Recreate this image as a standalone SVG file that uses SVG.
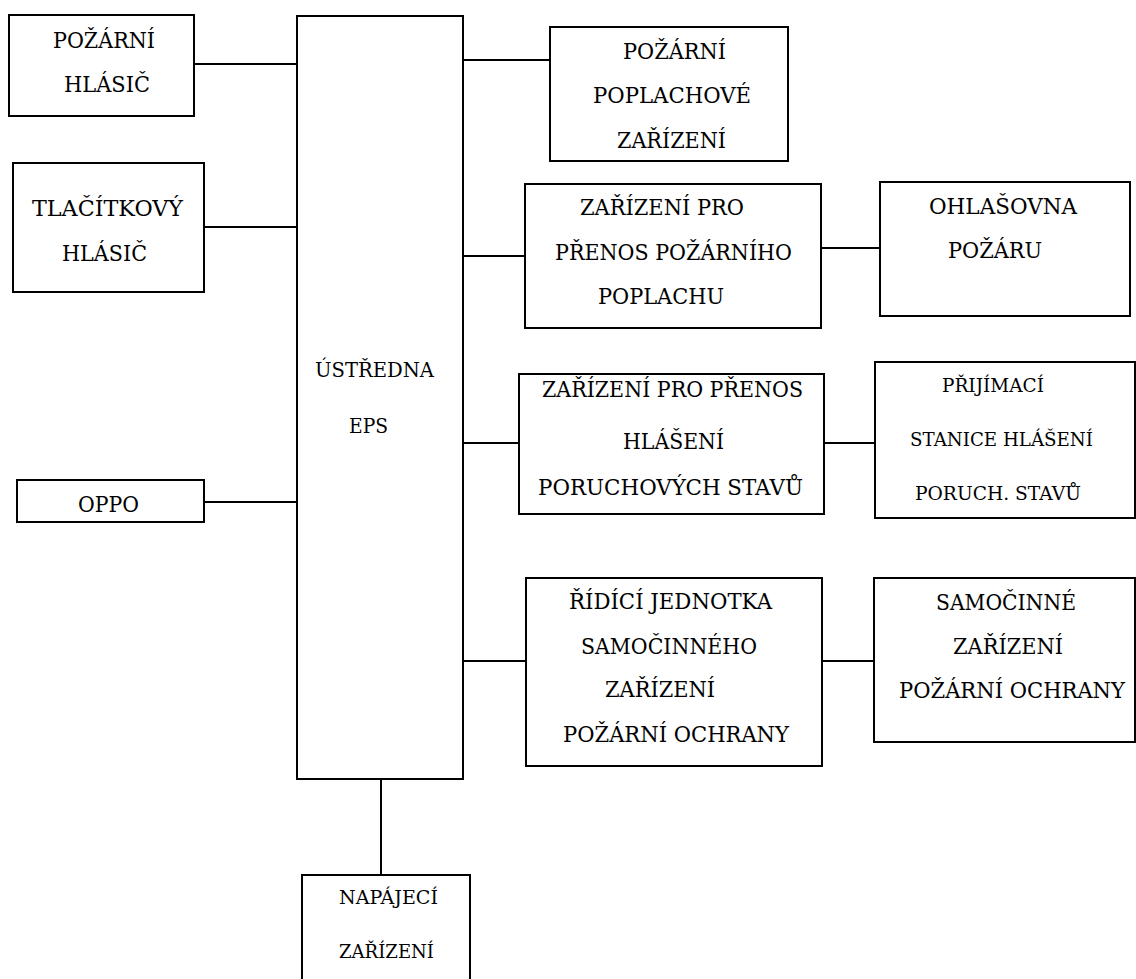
<svg xmlns="http://www.w3.org/2000/svg" width="1136" height="979" viewBox="0 0 1136 979" font-family="'DejaVu Serif', 'Liberation Serif', 'Times New Roman', serif" font-size="21.5">
<style>
rect{fill:#fff;stroke:#000;stroke-width:2}
line{stroke:#000;stroke-width:2}
text{fill:#000}
</style>
<rect x="0" y="0" width="1136" height="979" style="stroke:none"/>
<g id="connectors">
<line x1="194" y1="64" x2="297" y2="64"/>
<line x1="204" y1="227" x2="297" y2="227"/>
<line x1="204" y1="502" x2="297" y2="502"/>
<line x1="459" y1="60" x2="550" y2="60"/>
<line x1="460" y1="256" x2="525" y2="256"/>
<line x1="821" y1="248" x2="880" y2="248"/>
<line x1="463" y1="443" x2="519" y2="443"/>
<line x1="824" y1="443" x2="875" y2="443"/>
<line x1="461" y1="661" x2="526" y2="661"/>
<line x1="822" y1="661" x2="874" y2="661"/>
<line x1="381" y1="777" x2="381" y2="875"/>
</g>
<g id="pozarni-hlasic">
<rect x="9" y="15" width="185" height="101"/>
<text x="53" y="48" textLength="102" lengthAdjust="spacingAndGlyphs">POŽÁRNÍ</text>
<text x="64" y="92" textLength="86" lengthAdjust="spacingAndGlyphs">HLÁSIČ</text>
</g>
<g id="tlacitkovy-hlasic">
<rect x="13" y="163" width="191" height="129"/>
<text x="32" y="216" textLength="151" lengthAdjust="spacingAndGlyphs">TLAČÍTKOVÝ</text>
<text x="62" y="261" textLength="85" lengthAdjust="spacingAndGlyphs">HLÁSIČ</text>
</g>
<g id="oppo">
<rect x="17" y="480" width="187" height="42"/>
<text x="78" y="512" textLength="61" lengthAdjust="spacingAndGlyphs">OPPO</text>
</g>
<g id="ustredna" font-size="20">
<rect x="297" y="16" width="166" height="763"/>
<text x="315" y="377" textLength="119" lengthAdjust="spacingAndGlyphs">ÚSTŘEDNA</text>
<text x="349" y="433" textLength="39" lengthAdjust="spacingAndGlyphs">EPS</text>
</g>
<g id="pozarni-poplachove">
<rect x="550" y="27" width="238" height="134"/>
<text x="623" y="59" textLength="103" lengthAdjust="spacingAndGlyphs">POŽÁRNÍ</text>
<text x="593" y="103" textLength="158" lengthAdjust="spacingAndGlyphs">POPLACHOVÉ</text>
<text x="617" y="148" textLength="109" lengthAdjust="spacingAndGlyphs">ZAŘÍZENÍ</text>
</g>
<g id="prenos-poplachu">
<rect x="525" y="184" width="296" height="144"/>
<text x="580" y="215" textLength="164" lengthAdjust="spacingAndGlyphs">ZAŘÍZENÍ PRO</text>
<text x="555" y="260" textLength="237" lengthAdjust="spacingAndGlyphs">PŘENOS POŽÁRNÍHO</text>
<text x="598" y="304" textLength="126" lengthAdjust="spacingAndGlyphs">POPLACHU</text>
</g>
<g id="ohlasovna">
<rect x="880" y="182" width="250" height="134"/>
<text x="929" y="214" textLength="148" lengthAdjust="spacingAndGlyphs">OHLAŠOVNA</text>
<text x="948" y="258" textLength="94" lengthAdjust="spacingAndGlyphs">POŽÁRU</text>
</g>
<g id="prenos-poruch">
<rect x="519" y="374" width="305" height="140"/>
<text x="542" y="397" textLength="261" lengthAdjust="spacingAndGlyphs">ZAŘÍZENÍ PRO PŘENOS</text>
<text x="623" y="449" textLength="101" lengthAdjust="spacingAndGlyphs">HLÁŠENÍ</text>
<text x="538" y="495" textLength="265" lengthAdjust="spacingAndGlyphs">PORUCHOVÝCH STAVŮ</text>
</g>
<g id="prijimaci-stanice" font-size="19">
<rect x="875" y="362" width="260" height="156"/>
<text x="942" y="392" textLength="102" lengthAdjust="spacingAndGlyphs">PŘIJÍMACÍ</text>
<text x="910" y="446" textLength="183" lengthAdjust="spacingAndGlyphs">STANICE HLÁŠENÍ</text>
<text x="915" y="500" textLength="166" lengthAdjust="spacingAndGlyphs">PORUCH. STAVŮ</text>
</g>
<g id="ridici-jednotka">
<rect x="526" y="578" width="296" height="188"/>
<text x="569" y="609" textLength="203" lengthAdjust="spacingAndGlyphs">ŘÍDÍCÍ JEDNOTKA</text>
<text x="581" y="654" textLength="176" lengthAdjust="spacingAndGlyphs">SAMOČINNÉHO</text>
<text x="605" y="697" textLength="110" lengthAdjust="spacingAndGlyphs">ZAŘÍZENÍ</text>
<text x="563" y="742" textLength="226" lengthAdjust="spacingAndGlyphs">POŽÁRNÍ OCHRANY</text>
</g>
<g id="samocinne-zarizeni">
<rect x="874" y="578" width="261" height="164"/>
<text x="936" y="610" textLength="140" lengthAdjust="spacingAndGlyphs">SAMOČINNÉ</text>
<text x="953" y="654" textLength="110" lengthAdjust="spacingAndGlyphs">ZAŘÍZENÍ</text>
<text x="899" y="698" textLength="226" lengthAdjust="spacingAndGlyphs">POŽÁRNÍ OCHRANY</text>
</g>
<g id="napajeci-zarizeni" font-size="19">
<rect x="302" y="875" width="168" height="110"/>
<text x="339" y="904" textLength="99" lengthAdjust="spacingAndGlyphs">NAPÁJECÍ</text>
<text x="339" y="958" textLength="95" lengthAdjust="spacingAndGlyphs">ZAŘÍZENÍ</text>
</g>
</svg>
